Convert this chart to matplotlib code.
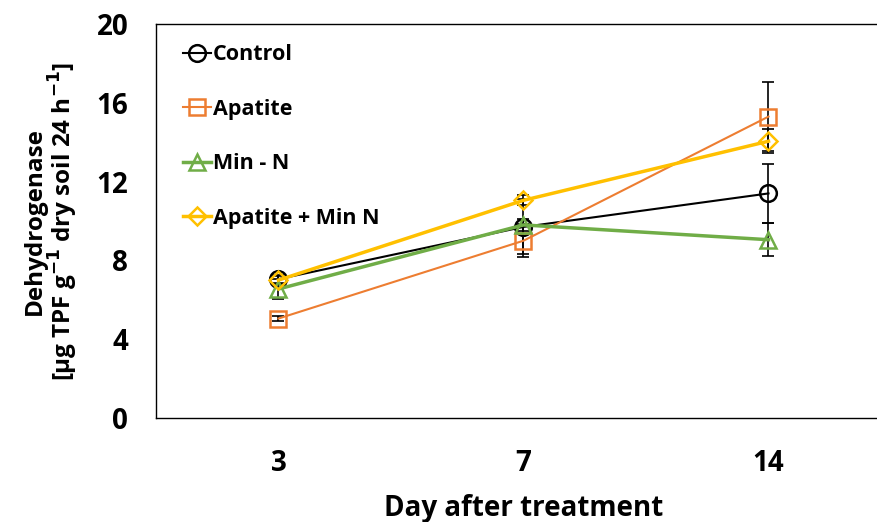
import matplotlib
matplotlib.use("Agg")
import matplotlib.pyplot as plt
import numpy as np

days = ["3", "7", "14"]

control = [7.05, 9.7, 11.4]
control_err = [0.2, 1.4, 1.5]
apatite = [5.05, 9.0, 15.3]
apatite_err = [0.15, 0.85, 1.75]
min_n = [6.55, 9.8, 9.05]
min_n_err = [0.5, 0.3, 0.85]
apatite_min_n = [7.0, 11.05, 14.05]
apatite_min_n_err = [0.2, 0.25, 0.6]

plt.rcParams["font.family"] = ["Open Sans", "DejaVu Sans"]
plt.rcParams["font.weight"] = "bold"
plt.rcParams["mathtext.default"] = "bf"

fig = plt.figure(figsize=(8.78, 5.22), dpi=100)
ax = fig.add_axes([156 / 878, (522 - 418) / 522, (891 - 156) / 878, (418 - 24) / 522])

x = np.arange(len(days))
series = [
    ("Control", control, control_err, "#000000", "o", 1.5, 12),
    ("Apatite", apatite, apatite_err, "#ED7D31", "s", 1.5, 12),
    ("Min - N", min_n, min_n_err, "#70AD47", "^", 2.5, 12),
    ("Apatite + Min N", apatite_min_n, apatite_min_n_err, "#FFC000", "D", 2.5, 9),
]
for label, y, err, color, marker, lw, ms in series:
    ax.errorbar(x, y, yerr=err, fmt="none", ecolor="black", elinewidth=1.2,
                capsize=4, capthick=1.2, zorder=2)
for label, y, err, color, marker, lw, ms in series:
    ax.plot(x, y, color=color, lw=lw, marker=marker, ms=ms, mfc="none",
            mec=color, mew=1.8, label=label, zorder=3)

ax.set_xlim(-0.5, 2.5)
ax.set_ylim(0, 20)
ax.set_yticks([0, 4, 8, 12, 16, 20])
ax.set_xticks(x)
ax.set_xticklabels(days)
ax.tick_params(length=0, labelsize=20)
ax.tick_params(axis="x", pad=22)
ax.tick_params(axis="y", pad=20)
for lab in ax.get_xticklabels() + ax.get_yticklabels():
    lab.set_fontweight("bold")
for sp in ax.spines.values():
    sp.set_linewidth(1.0)

ax.set_xlabel("Day after treatment", fontsize=20, fontweight="bold", labelpad=12)
ax.set_ylabel("Dehydrogenase\n[\u00b5g TPF g$^{-1}$ dry soil 24 h$^{-1}$]",
              fontsize=17.5, fontweight="bold", labelpad=12, linespacing=1.0)

leg = ax.legend(loc="upper left", frameon=False, fontsize=15.5, handlelength=1.3,
                handletextpad=0.1, labelspacing=1.55, borderaxespad=0.0,
                bbox_to_anchor=(0.025, 0.97))
for t in leg.get_texts():
    t.set_fontweight("bold")

fig.savefig("out.png", dpi=100)
